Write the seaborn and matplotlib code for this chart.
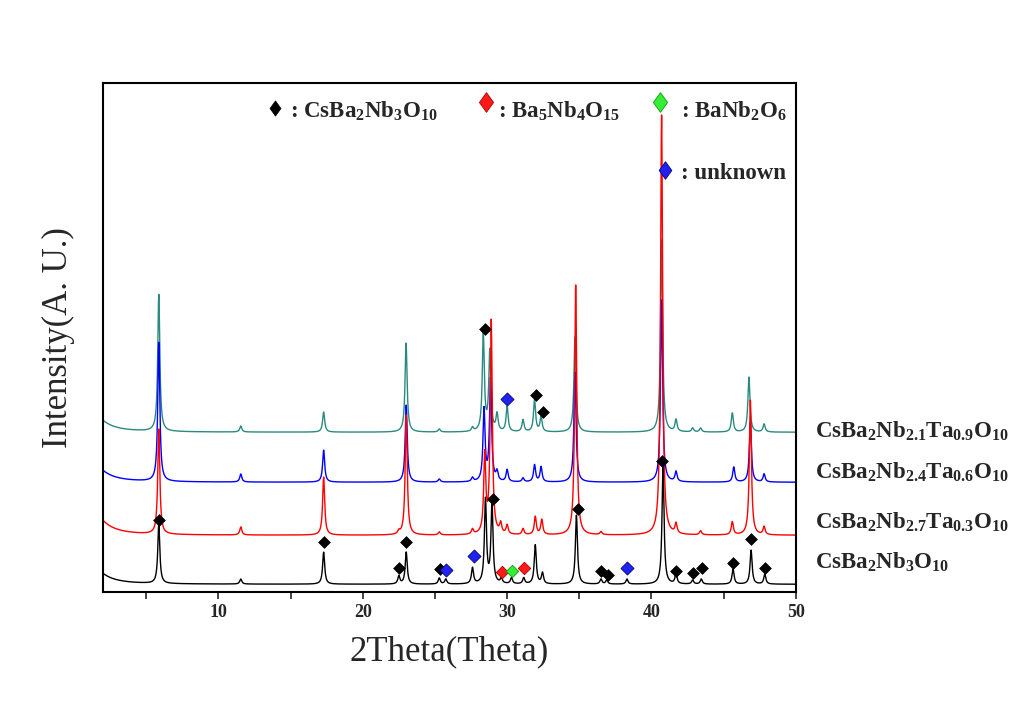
import numpy as np
import pandas as pd
import seaborn as sns
import matplotlib.pyplot as plt

# Peak lists (2theta in degrees, height above the trace's own baseline)
black_pos = [5.87, 11.55, 17.29, 22.5, 23.01, 25.3, 25.75, 27.6, 28.5, 28.95, 29.6, 30.3,
             31.15, 31.95, 32.45, 34.8, 36.5, 36.9, 38.3, 40.8, 41.7, 42.85, 43.45, 45.65,
             46.9, 47.85]
black_hgt = [59, 5, 32, 8, 32, 6, 5, 16, 84, 80, 5, 6,
             6, 39, 11, 69, 5, 4, 5, 117, 10, 4, 5, 15,
             34, 10]

red_pos = [5.87, 11.55, 17.29, 22.5, 23.01, 25.3, 27.6, 28.45, 28.9, 29.55, 30.0, 31.1,
           31.95, 32.4, 34.75, 36.5, 40.7, 41.7, 43.4, 45.6, 46.85, 47.8]
red_hgt = [105, 8, 58, 3, 120, 3, 5, 78, 213, 10, 9, 6,
           18, 15, 250, 3, 420, 10, 4, 13, 135, 8]

blue_pos = [5.87, 11.55, 17.29, 23.01, 25.3, 27.6, 28.4, 28.85, 29.3, 30.0, 31.1, 31.9,
            32.35, 34.7, 40.7, 41.7, 45.7, 46.85, 47.8]
blue_hgt = [139, 8, 32, 77, 3, 4, 72, 102, 9, 12, 4, 17,
            15, 110, 182, 10, 15, 60, 8]

teal_pos = [5.87, 11.55, 17.29, 23.0, 25.3, 27.6, 28.35, 28.8, 29.3, 30.0, 31.1, 31.9,
            32.35, 34.7, 40.7, 41.7, 42.85, 43.4, 45.6, 46.75, 47.8]
teal_hgt = [137, 6, 20, 89, 3, 4, 97, 80, 17, 25, 12, 32,
            15, 95, 192, 12, 4, 4, 19, 55, 8]

samples = ['CsBa2Nb3O10', 'CsBa2Nb2.1Ta0.9O10', 'CsBa2Nb2.4Ta0.6O10', 'CsBa2Nb2.7Ta0.3O10']
baselines = [8, 160, 110, 57]
low_angle = [22, 24, 24, 30]
colors = ['#000000', '#2a8a80', '#0000ff', '#ff0000']

# Phase markers (2theta, intensity on the plotted scale)
cbn_x = [5.87, 17.29, 22.48, 23.01, 25.32, 28.48, 29.05, 32.01, 32.51, 34.89, 36.48, 37.01,
         40.71, 41.7, 42.85, 43.47, 45.66, 46.89, 47.85]
cbn_y = [72, 50, 24, 50, 23, 263, 93, 197, 180, 83, 21, 17,
         131, 21, 19, 24, 29, 53, 24]
b5n4_x = [29.63, 31.18]
b5n4_y = [20, 24]
bn2_x = [30.33]
bn2_y = [21]
unk_x = [25.76, 27.72, 30.02, 38.33]
unk_y = [22, 36, 193, 24]

two_theta = np.arange(2.0, 50.005, 0.01)
hwhm = 0.085


def pattern(pos, hgt, base, low):
    y = base + low / (1 + ((two_theta - 1.0) / 1.0) ** 2)
    for p, h in zip(pos, hgt):
        y = y + h / (1 + ((two_theta - p) / hwhm) ** 2)
    return y


peaks = [(black_pos, black_hgt), (teal_pos, teal_hgt), (blue_pos, blue_hgt), (red_pos, red_hgt)]
frames = []
for name, (pos, hgt), base, low in zip(samples, peaks, baselines, low_angle):
    frames.append(pd.DataFrame({'two_theta': two_theta,
                                'intensity': pattern(pos, hgt, base, low),
                                'sample': name}))
df = pd.concat(frames, ignore_index=True)

sns.set_style('ticks')
plt.rcParams['font.family'] = ['Liberation Serif', 'DejaVu Serif']
plt.rcParams['mathtext.fontset'] = 'custom'
plt.rcParams['mathtext.rm'] = 'Liberation Serif:bold'
plt.rcParams['mathtext.bf'] = 'Liberation Serif:bold'
plt.rcParams['mathtext.it'] = 'Liberation Serif:bold:italic'

fig = plt.figure(figsize=(10.19, 7.11), dpi=100)
ax = fig.add_axes([0.101, 0.167, 0.68, 0.716])

sns.lineplot(data=df, x='two_theta', y='intensity', hue='sample', hue_order=samples,
             palette=colors, legend=False, linewidth=1.0, estimator=None, sort=False, ax=ax)

diamond = [(0, 1), (0.72, 0), (0, -1), (-0.72, 0), (0, 1)]
sns.scatterplot(x=cbn_x, y=cbn_y, marker='D', s=36, color='black', edgecolor='black',
                linewidth=0.5, zorder=5, ax=ax)
sns.scatterplot(x=b5n4_x, y=b5n4_y, marker='D', s=40, color='#ff1a1a', edgecolor='#aa0000',
                linewidth=0.6, zorder=5, ax=ax)
sns.scatterplot(x=bn2_x, y=bn2_y, marker='D', s=40, color='#33ee33', edgecolor='#119911',
                linewidth=0.6, zorder=5, ax=ax)
sns.scatterplot(x=unk_x, y=unk_y, marker='D', s=44, color='#2222ee', edgecolor='#000088',
                linewidth=0.6, zorder=5, ax=ax)

# Legend drawn inside the frame like the original
sns.scatterplot(x=[13.93], y=[484], marker=diamond, s=120, color='black', edgecolor='black',
                linewidth=0.5, zorder=6, ax=ax)
sns.scatterplot(x=[28.54], y=[490], marker=diamond, s=200, color='#ff1a1a', edgecolor='#aa0000',
                linewidth=0.6, zorder=6, ax=ax)
sns.scatterplot(x=[40.58], y=[490], marker=diamond, s=200, color='#33ee33', edgecolor='#119911',
                linewidth=0.6, zorder=6, ax=ax)
sns.scatterplot(x=[40.93], y=[422], marker=diamond, s=160, color='#2222ee', edgecolor='#000088',
                linewidth=0.6, zorder=6, ax=ax)

leg_kw = dict(fontsize=16.5, fontweight='bold', va='baseline', ha='left', zorder=6)
ax.text(14.97, 474, r': $\mathrm{CsBa_2Nb_3O_{10}}$', **leg_kw)
ax.text(29.37, 474, r': $\mathrm{Ba_5Nb_4O_{15}}$', **leg_kw)
ax.text(42.03, 474, r': $\mathrm{BaNb_2O_6}$', **leg_kw)
ax.text(42.03, 413, ': unknown', **leg_kw)

# Sample labels to the right of the frame
lab_kw = dict(fontsize=16.5, va='baseline', ha='left', transform=ax.get_yaxis_transform(),
              clip_on=False)
ax.text(1.027, 155, r'$\mathrm{CsBa_2Nb_{2.1}Ta_{0.9}O_{10}}$', **lab_kw)
ax.text(1.027, 114, r'$\mathrm{CsBa_2Nb_{2.4}Ta_{0.6}O_{10}}$', **lab_kw)
ax.text(1.027, 64, r'$\mathrm{CsBa_2Nb_{2.7}Ta_{0.3}O_{10}}$', **lab_kw)
ax.text(1.027, 24, r'$\mathrm{CsBa_2Nb_3O_{10}}$', **lab_kw)

ax.set_xlim(2, 50)
ax.set_ylim(0, 509)
ax.set_xticks([10, 20, 30, 40, 50])
ax.set_xticks([5, 15, 25, 35, 45], minor=True)
ax.set_yticks([])
ax.tick_params(axis='x', which='both', direction='out', length=5, width=1.2,
               top=False, labelsize=13)
for lbl in ax.get_xticklabels():
    lbl.set_fontweight('bold')
for sp in ax.spines.values():
    sp.set_visible(True)
    sp.set_linewidth(1.5)
    sp.set_color('black')

ax.set_xlabel('2Theta(Theta)', fontsize=25, labelpad=10)
ax.set_ylabel('Intensity(A. U.)', fontsize=25, labelpad=20)

fig.savefig('out.png', dpi=100)
